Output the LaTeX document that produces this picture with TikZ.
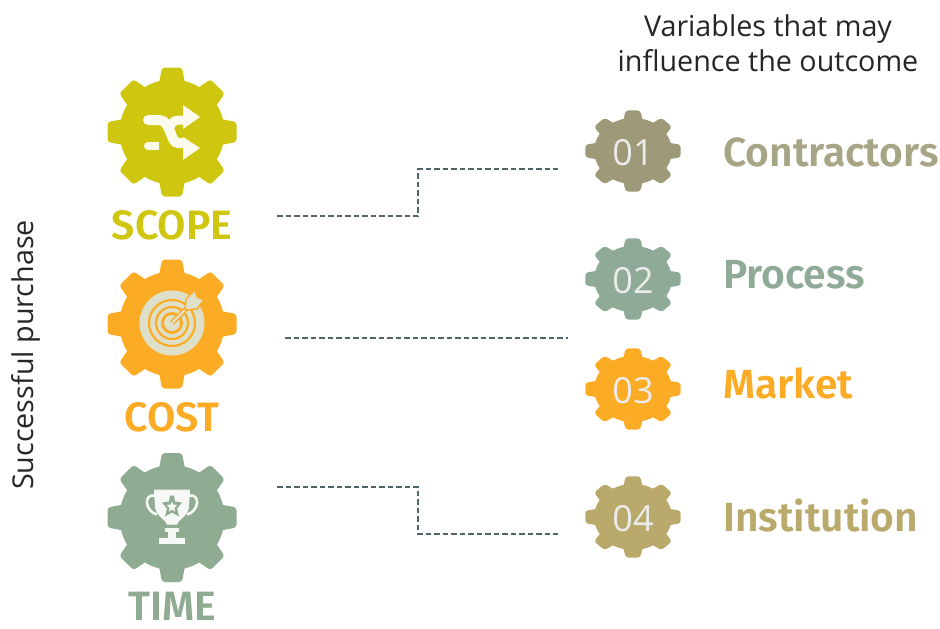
\documentclass[tikz,border=0pt]{standalone}
\usepackage{fontspec}
\setmainfont{Open Sans}
\newfontfamily\fira{Fira Sans}[BoldFont={Fira Sans SemiBold}]
\definecolor{cscope}{HTML}{CFC60F}
\definecolor{ccost}{HTML}{FBAB24}
\definecolor{ctime}{HTML}{8FAB91}
\definecolor{cone}{HTML}{9E9A79}
\definecolor{ctwo}{HTML}{8FAB97}
\definecolor{cfour}{HTML}{B9AA6C}
\definecolor{cpale}{HTML}{DFE0C9}
\definecolor{cdash}{HTML}{4F6468}
\newcommand{\mygear}[4]{% x,y,xscale,yscale
  \begin{scope}[shift={(#1,#2)},xscale=#3,yscale=#4]
  \fill[gearfill] (0,0) circle (52.5);
  \foreach \a in {0,45,...,315}{
    \fill[gearfill,rotate=\a,rounded corners=3pt] (-13.5,46) -- (-10,64.5) -- (10,64.5) -- (13.5,46) -- cycle;
  }
  \end{scope}}
\tikzset{
  x=1pt,y=1pt,
  gearfill/.style={fill=gearcol},
  biglabel/.style={font=\fira\bfseries\fontsize{41}{41}\selectfont,anchor=base,inner sep=0},
  sidelabel/.style={font=\fira\bfseries\fontsize{40.7}{41}\selectfont,anchor=base west,inner sep=0},
  num/.style={font=\fontsize{36}{36}\selectfont,text=white!92!black,anchor=base,inner sep=0},
  plain/.style={font=\fontsize{28.7}{34.5}\selectfont,align=center,inner sep=0,text=black!85},
  conn/.style={draw=cdash,line width=1.1pt,dash pattern=on 5.5pt off 3pt},
}
\begin{document}
\begin{tikzpicture}
\useasboundingbox (0,0) rectangle (940,-629);
% large gears
\colorlet{gearcol}{cscope}\mygear{172}{-132}{1}{1}
\colorlet{gearcol}{ccost}\mygear{172}{-324}{1}{1}
\colorlet{gearcol}{ctime}\mygear{172}{-517.5}{1}{1}
% small gears
\colorlet{gearcol}{cone}\mygear{633}{-151}{.74}{.63}
\colorlet{gearcol}{ctwo}\mygear{633}{-279}{.74}{.63}
\colorlet{gearcol}{ccost}\mygear{633}{-389}{.74}{.63}
\colorlet{gearcol}{cfour}\mygear{633}{-517}{.74}{.63}
% shuffle icon
\begin{scope}[shift={(172,-132)}]
  \draw[white!92!cscope,line width=10pt] (-24,12) -- (-13,12) .. controls (-1,12) and (-2,-11) .. (6,-11) -- (13,-11);
  \draw[white!92!cscope,line width=9pt] (13,12) -- (6,12) .. controls (1,12) and (-2,6) .. (-4,1);
  \draw[white!92!cscope,line width=8pt] (-24,-14) -- (-13,-14);
  \fill[white!92!cscope] (-24,17) arc (90:270:5) -- cycle;
  \fill[white!92!cscope] (-24,-10) arc (90:270:4) -- cycle;
  \fill[white!92!cscope] (28,15) -- (11,27) -- (11,3) -- cycle;
  \fill[white!92!cscope] (28,-16) -- (11,-5) -- (11,-28) -- cycle;
\end{scope}
% target icon
\begin{scope}[shift={(172,-324)}]
  \fill[cpale] (0,1) circle (32.5);
  \draw[ccost,line width=2.2pt] (0,1) circle (23);
  \draw[ccost,line width=2.2pt] (0,1) circle (16);
  \fill[ccost] (0,1) circle (11);
  \fill[cpale] (0,1) circle (8);
  \draw[ccost,line width=5pt] (0,1) -- (16,17);
  \draw[cpale,line width=2.4pt] (0,1) -- (16,17);
  \fill[cpale,draw=ccost,line width=1.4pt] (13,14) -- (14,25) -- (23,34) -- (25,27) -- (32,24) -- (25,15) -- cycle;
\end{scope}
% trophy icon
\begin{scope}[shift={(172,-517.5)}]
  \fill[white!92!ctime] (-18,28) -- (18,28) -- (17,10) .. controls (15,0) and (6,-2) .. (5,-7) -- (-5,-7) .. controls (-6,-2) and (-15,0) .. (-17,10) -- cycle;
  \fill[white!92!ctime] (-7,-10) rectangle (7,-14);
  \fill[white!92!ctime] (-4,-14) rectangle (4,-20);
  \fill[white!92!ctime] (-13,-20) rectangle (13,-26);
  \draw[white!92!ctime,line width=2.6pt] (-17,22) .. controls (-29,24) and (-27,6) .. (-15,3);
  \draw[white!92!ctime,line width=2.6pt] (17,22) .. controls (29,24) and (27,6) .. (15,3);
  \fill[ctime] (-2,22) -- (2,22) -- (3,16) -- (10,15) -- (5,9) -- (7,1) -- (0,5) -- (-7,1) -- (-5,9) -- (-10,15) -- (-3,16) -- cycle;
  \fill[white!92!ctime] (0,16) -- (1.5,13) -- (5,12.5) -- (2.5,9.5) -- (3,6) -- (0,8) -- (-3,6) -- (-2.5,9.5) -- (-5,12.5) -- (-1.5,13) -- cycle;
\end{scope}
% labels
\node[biglabel,text=cscope] (lscope) at (172,-239) {\textbf{SCOPE}};
\node[biglabel,text=ccost] (lcost) at (172,-431) {\textbf{COST}};
\node[biglabel,text=ctime] (ltime) at (172,-620) {\textbf{TIME}};
\node[num] (n1) at (633,-165) {01};
\node[num] (n2) at (633,-293) {02};
\node[num] (n3) at (633,-403) {03};
\node[num] (n4) at (633,-531) {04};
\node[sidelabel,text=cone!90!white] (t1) at (723,-166) {\textbf{Contractors}};
\node[sidelabel,text=ctwo] (t2) at (723,-288) {\textbf{Process}};
\node[sidelabel,text=ccost] (t3) at (723,-398) {\textbf{Market}};
\node[sidelabel,text=cfour] (t4) at (723,-531) {\textbf{Institution}};
\node[plain] (head) at (768,-43) {Variables that may\\influence the outcome};
\node[plain,rotate=90] (side) at (26,-355) {Successful purchase};
% connectors
\coordinate (a1) at (277,-216); \coordinate (a2) at (558,-169);
\coordinate (b1) at (285,-338); \coordinate (b2) at (568,-338);
\coordinate (c1) at (277,-487); \coordinate (c2) at (558,-534);
\draw[conn] (a1) -- (418,-216) -- (418,-169) -- (a2);
\draw[conn] (b1) -- (b2);
\draw[conn] (c1) -- (418,-487) -- (418,-534) -- (c2);
\end{tikzpicture}
\end{document}
